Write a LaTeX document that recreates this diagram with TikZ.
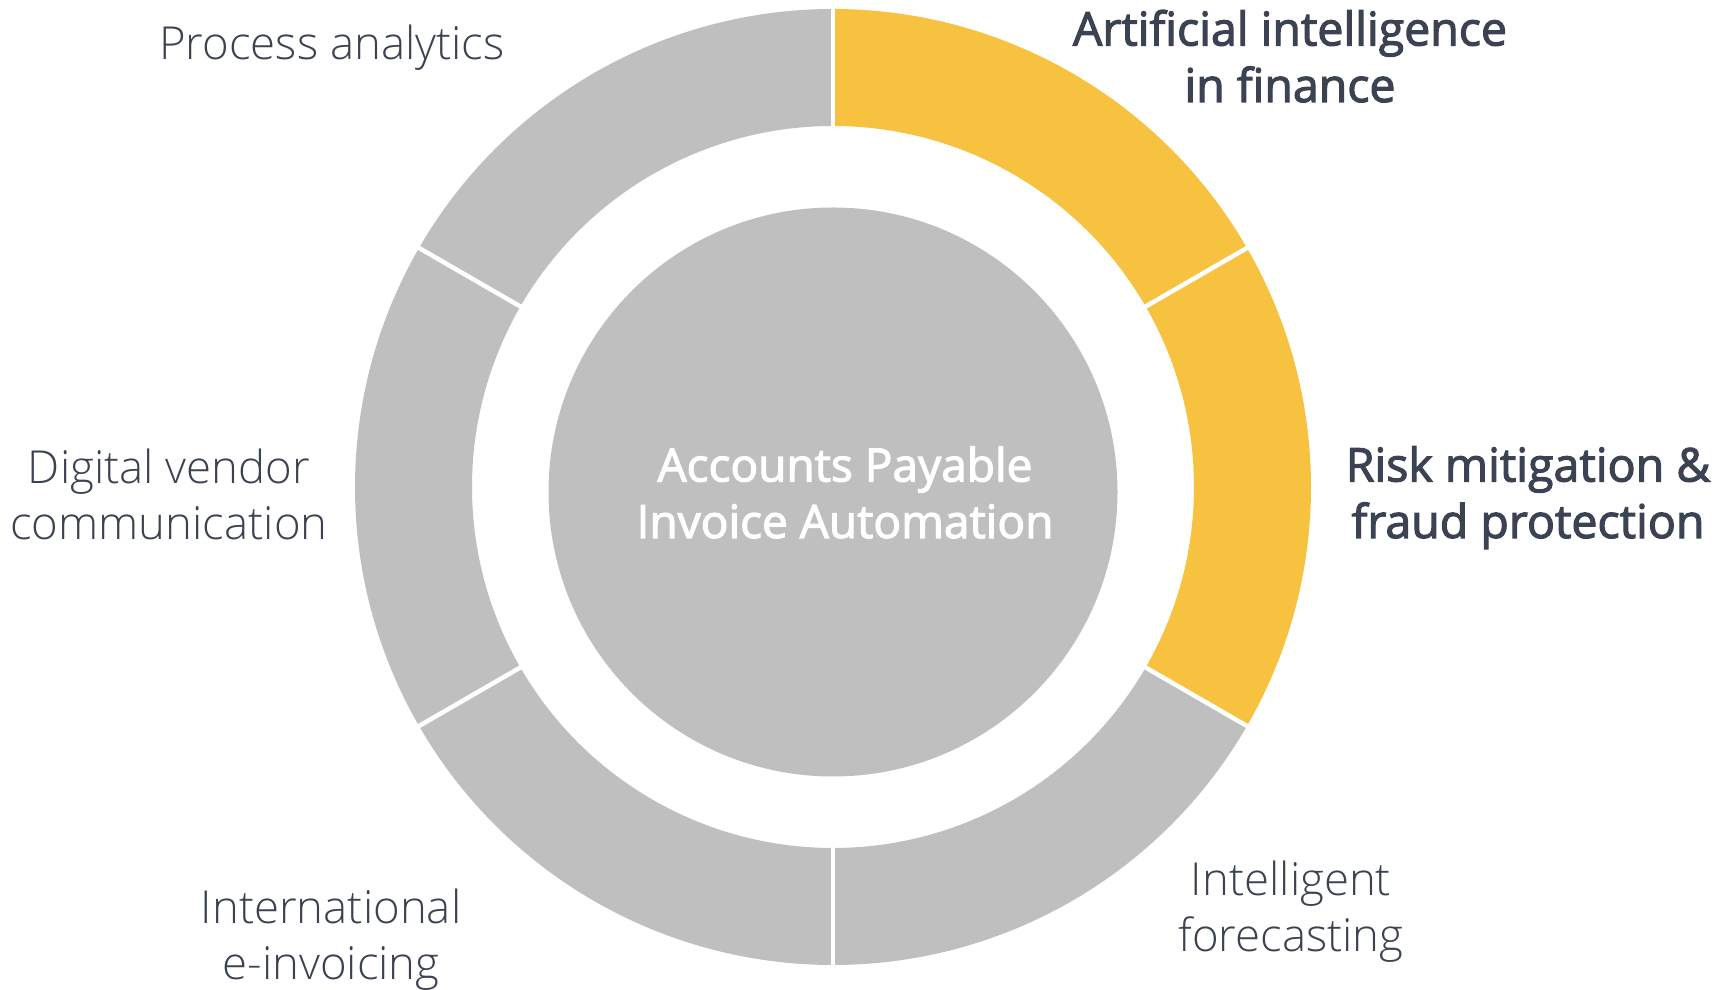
\documentclass[tikz,border=0pt]{standalone}
\usepackage{fontspec}
\setmainfont{Open Sans}
\newfontfamily\lightfont{Open Sans Light}
\newfontfamily\semifont{Open Sans}[FakeBold=2.4]
\usetikzlibrary{calc}
\definecolor{ringgrey}{HTML}{BFBFBF}
\definecolor{ringgold}{HTML}{F8C241}
\definecolor{labeltext}{HTML}{3B4252}
\tikzset{
  seglabel/.style={align=center, anchor=base, inner sep=0pt, text=labeltext,
    font=\lightfont\fontsize{45.5}{56.5}\selectfont},
  hilabel/.style={seglabel, font=\semifont\fontsize{46.5}{56.5}\selectfont},
  corelabel/.style={seglabel, text=white, font=\semifont\fontsize{46}{56.5}\selectfont},
  gapline/.style={draw=white, line width=4.5pt},
  disk/.style={circle, fill=ringgrey, minimum size=569pt, inner sep=0pt, draw=none}
}
\begin{document}
\begin{tikzpicture}[x=1pt,y=1pt]
\useasboundingbox (0,0) rectangle (1727,990);
\coordinate (c) at (833,503);
% ring segments
\foreach \a/\b/\col in {90/150/ringgrey,150/210/ringgrey,210/270/ringgrey,270/330/ringgrey,330/390/ringgold,390/450/ringgold}
  \fill[\col] ($(c)+(\a:478)$) arc[start angle=\a,end angle=\b,radius=478pt]
     -- ($(c)+(\b:361)$) arc[start angle=\b,end angle=\a,radius=361pt] -- cycle;
% separators
\foreach \a in {30,90,150,210,270,330}
  \draw[gapline] ($(c)+(\a:355)$) -- ($(c)+(\a:485)$);
% centre disk
\node[disk] (core) at (833,498) {};
\node[corelabel] (coretext) at (845,452) {Accounts Payable\\Invoice Automation};
% labels
\node[seglabel] (pa) at (332,930) {Process analytics};
\node[hilabel] (ai) at (1290,888) {Artificial intelligence\\in finance};
\node[hilabel] (risk) at (1528,452) {Risk mitigation \&\\fraud protection};
\node[seglabel] (fc) at (1291,38) {Intelligent\\forecasting};
\node[seglabel] (ei) at (331,10) {International\\e-invoicing};
\node[seglabel] (dv) at (169,450) {Digital vendor\\communication};
\end{tikzpicture}
\end{document}
